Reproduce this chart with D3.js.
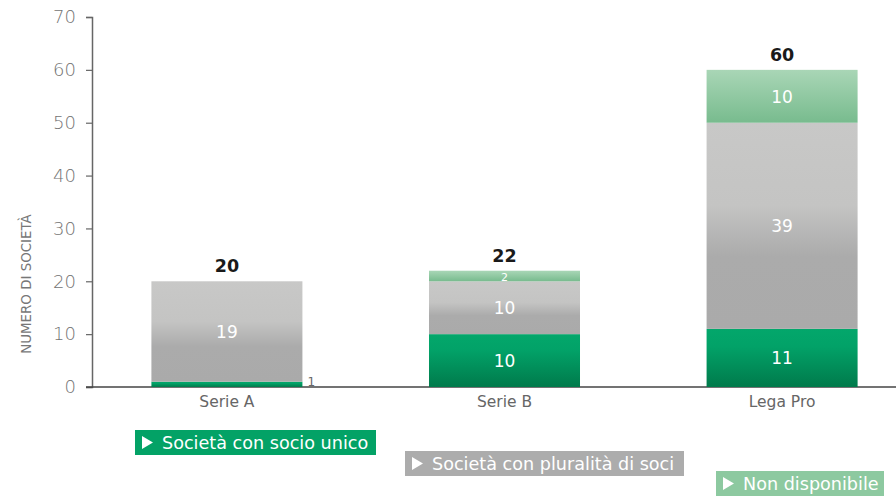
<!DOCTYPE html>
<html>
<head>
<meta charset="utf-8">
<script src="https://cdn.jsdelivr.net/npm/d3@7"></script>
<style>
  body { margin: 0; background: #fff; }
  svg { display: block; font-family: "DejaVu Sans", sans-serif; }
</style>
</head>
<body>
<div id="container"></div>
<script>
let w = 896;
let h = 496;

// data
let categories = ["Serie A", "Serie B", "Lega Pro"];
let socioUnico = [1, 10, 11];
let pluralita = [19, 10, 39];
let nonDisponibile = [0, 2, 10];
let totals = [20, 22, 60];
let yTicks = [0, 10, 20, 30, 40, 50, 60, 70];
let seriesNames = ["Società con socio unico", "Società con pluralità di soci", "Non disponibile"];

let viz = d3.select("#container")
  .append("svg")
  .attr("width", w)
  .attr("height", h)
  ;

let defs = viz.append("defs");

function addGradient(id, stops) {
  let g = defs.append("linearGradient").attr("id", id)
    .attr("x1", 0).attr("y1", 0).attr("x2", 0).attr("y2", 1);
  stops.forEach(function (s) {
    g.append("stop").attr("offset", s[0]).attr("stop-color", s[1]);
  });
}
addGradient("gGreen", [[0, "#03a76b"], [0.3, "#02a268"], [1, "#007a4b"]]);
addGradient("gGray", [[0, "#c8c8c7"], [0.4, "#c4c4c3"], [0.65, "#ababab"], [1, "#aaaaaa"]]);
addGradient("gLight", [[0, "#a9d6b6"], [1, "#78bb8e"]]);

let yScale = d3.scaleLinear().domain([0, 70]).range([387, 17]);
let xScale = d3.scaleBand().domain(categories).range([92, 917])
  .paddingInner(0.456).paddingOuter(0.214);

// y axis
let yAxisGroup = viz.append("g").attr("class", "yaxis")
  .attr("transform", "translate(92,0)");
yAxisGroup.call(d3.axisLeft(yScale).tickValues(yTicks).tickSize(6).tickPadding(10));
yAxisGroup.select(".domain").attr("stroke", "#666").attr("stroke-width", 1.5);
yAxisGroup.selectAll(".tick line").attr("stroke", "#666").attr("stroke-width", 1.2);
yAxisGroup.selectAll(".tick text")
  .attr("fill", "#737373")
  .style("font-size", "18px")
  .style("font-family", "'DejaVu Sans', sans-serif")
  .attr("font-weight", 300);

// baseline
viz.append("line")
  .attr("x1", 86).attr("x2", w)
  .attr("y1", yScale(0)).attr("y2", yScale(0))
  .attr("stroke", "#444").attr("stroke-width", 1.5);

// y title
viz.append("text")
  .attr("transform", "translate(31," + 284 + ") rotate(-90)")
  .attr("text-anchor", "middle")
  .attr("fill", "#777")
  .style("font-size", "13.4px")
  .text("NUMERO DI SOCIETÀ");

// stacked data
let rows = categories.map(function (c, i) {
  return { cat: c, a: socioUnico[i], b: pluralita[i], c: nonDisponibile[i], total: totals[i] };
});
let stack = d3.stack().keys(["a", "b", "c"]);
let stacked = stack(rows);
let fills = ["url(#gGreen)", "url(#gGray)", "url(#gLight)"];

let layers = viz.selectAll(".layer").data(stacked).enter()
  .append("g").attr("class", "layer")
  .attr("fill", function (d, i) { return fills[i]; });

layers.selectAll("rect").data(function (d) { return d; }).enter()
  .append("rect")
  .attr("x", function (d) { return xScale(d.data.cat); })
  .attr("width", xScale.bandwidth())
  .attr("y", function (d) { return yScale(d[1]); })
  .attr("height", function (d) { return yScale(d[0]) - yScale(d[1]); });

// segment labels
stacked.forEach(function (layer) {
  layer.forEach(function (d) {
    let v = d[1] - d[0];
    if (v <= 0) return;
    let t = viz.append("text").text(v);
    if (v < 2) {
      t.attr("x", xScale(d.data.cat) + xScale.bandwidth() + 5)
        .attr("y", yScale(0) - 1)
        .attr("fill", "#666")
        .style("font-size", "12px");
    } else if (v < 5) {
      t.attr("x", xScale(d.data.cat) + xScale.bandwidth() / 2)
        .attr("y", (yScale(d[0]) + yScale(d[1])) / 2 + 4.5)
        .attr("text-anchor", "middle")
        .attr("fill", "#fff")
        .style("font-size", "11px");
    } else {
      t.attr("x", xScale(d.data.cat) + xScale.bandwidth() / 2)
        .attr("y", (yScale(d[0]) + yScale(d[1])) / 2 + 6.5)
        .attr("text-anchor", "middle")
        .attr("fill", "#fff")
        .style("font-size", "17px");
    }
  });
});

// totals
viz.selectAll(".total").data(rows).enter()
  .append("text").attr("class", "total")
  .attr("x", function (d) { return xScale(d.cat) + xScale.bandwidth() / 2; })
  .attr("y", function (d) { return yScale(d.a + d.b + d.c) - 9; })
  .attr("text-anchor", "middle")
  .attr("font-weight", 700)
  .attr("fill", "#1a1a1a")
  .style("font-size", "17.5px")
  .text(function (d) { return d.total; });

// x labels
viz.selectAll(".xlabel").data(categories).enter()
  .append("text").attr("class", "xlabel")
  .attr("x", function (d) { return xScale(d) + xScale.bandwidth() / 2; })
  .attr("y", 407)
  .attr("text-anchor", "middle")
  .attr("fill", "#666")
  .style("font-size", "15.5px")
  .text(function (d) { return d; });

// legend
let legendColors = ["#03a266", "#acacac", "#8dc9a0"];
let legendPos = [[135, 430, 241], [405, 451, 279], [716, 471, 168]];
seriesNames.forEach(function (name, i) {
  let p = legendPos[i];
  let g = viz.append("g").attr("transform", "translate(" + p[0] + "," + p[1] + ")");
  g.append("rect").attr("width", p[2]).attr("height", 25).attr("fill", legendColors[i]);
  g.append("path").attr("d", "M7,6 L18,12.5 L7,19 Z").attr("fill", "#fff");
  g.append("text").attr("x", 27).attr("y", 18.5)
    .attr("fill", "#fff")
    .style("font-size", "17.6px").text(name);
});
</script>
</body>
</html>
